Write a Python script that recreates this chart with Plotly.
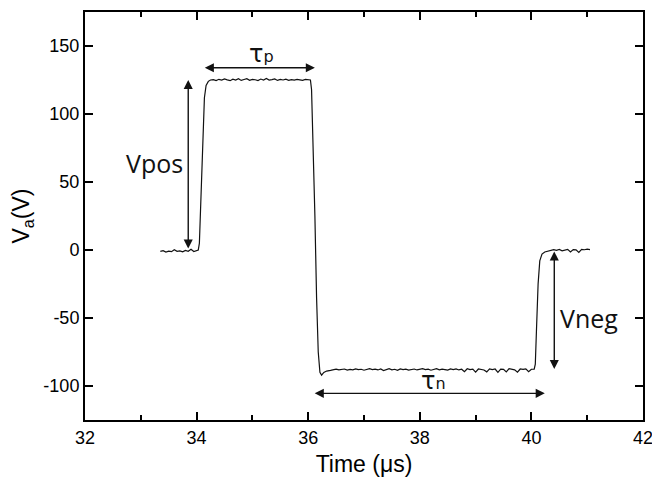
import plotly.graph_objects as go

# ---- data ----
t_base = [33.35, 33.40, 33.45, 33.50, 33.55, 33.60, 33.65, 33.70, 33.75, 33.80, 33.85, 33.90, 33.95, 34.00]
v_base = [-1.0, -0.5, -1.5, -0.8, -1.2, 0.2, -1.0, -0.6, -1.4, -0.3, -0.9, 0.5, -1.1, -0.2]

t_rise1 = [34.03, 34.05, 34.08, 34.11, 34.14, 34.17, 34.21, 34.25]
v_rise1 = [0.0, 5, 40, 85, 112, 121, 124, 125]

t_high = [34.30, 34.35, 34.40, 34.45, 34.50, 34.55, 34.60, 34.65, 34.70, 34.75,
          34.80, 34.85, 34.90, 34.95, 35.00, 35.05, 35.10, 35.15, 35.20, 35.25,
          35.30, 35.35, 35.40, 35.45, 35.50, 35.55, 35.60, 35.65, 35.70, 35.75,
          35.80, 35.85, 35.90, 35.95, 36.00]
v_high = [125.3, 124.6, 125.5, 124.9, 125.8, 125.1, 124.5, 125.6, 125.0, 125.9,
          124.7, 125.4, 126.0, 124.8, 125.5, 125.2, 124.6, 125.7, 125.0, 126.1,
          124.9, 125.3, 125.8, 124.7, 125.4, 125.0, 125.6, 124.8, 125.3, 124.9,
          125.5, 125.1, 124.7, 125.4, 125.0]

t_fall = [36.04, 36.06, 36.09, 36.12, 36.15, 36.18, 36.21, 36.24, 36.28, 36.33]
v_fall = [125, 118, 80, 25, -35, -75, -90, -92, -90, -89]

t_low = [36.40, 36.45, 36.50, 36.55, 36.60, 36.65, 36.70, 36.75, 36.80, 36.85,
         36.90, 36.95, 37.00, 37.05, 37.10, 37.15, 37.20, 37.25, 37.30, 37.35,
         37.40, 37.45, 37.50, 37.55, 37.60, 37.65, 37.70, 37.75, 37.80, 37.85,
         37.90, 37.95, 38.00, 38.05, 38.10, 38.15, 38.20, 38.25, 38.30, 38.35,
         38.40, 38.45, 38.50, 38.55, 38.60, 38.65, 38.70, 38.75, 38.80, 38.85,
         38.90, 38.95, 39.00, 39.05, 39.10, 39.15, 39.20, 39.25, 39.30, 39.35,
         39.40, 39.45, 39.50, 39.55, 39.60, 39.65, 39.70, 39.75, 39.80, 39.85,
         39.90, 39.95, 40.00, 40.05]
v_low = [-88.5, -88.0, -87.6, -88.2, -88.0, -87.5, -88.3, -87.8, -88.1, -87.4,
         -88.0, -87.7, -88.4, -87.9, -87.3, -88.0, -87.6, -88.2, -87.5, -88.6,
         -87.8, -87.2, -88.1, -87.7, -88.5, -87.4, -88.0, -87.6, -88.3, -87.9,
         -87.5, -88.2, -87.8, -87.3, -88.0, -87.6, -88.4, -87.7, -87.2, -88.1,
         -87.6, -87.9, -88.3, -87.5, -88.0, -87.4, -88.2, -87.7, -89.5, -87.3,
         -88.0, -87.6, -89.8, -87.5, -87.9, -88.2, -89.6, -87.4, -88.0, -87.5,
         -90.0, -87.6, -87.8, -89.7, -87.3, -87.9, -88.1, -89.9, -87.5, -87.8,
         -87.4, -89.5, -87.7, -87.6]

t_rise2 = [40.07, 40.09, 40.12, 40.15, 40.19, 40.24, 40.30]
v_rise2 = [-84, -60, -25, -8, -3, -1.5, -1]

t_zero = [40.35, 40.40, 40.45, 40.50, 40.55, 40.60, 40.65, 40.70, 40.75, 40.80,
          40.85, 40.90, 40.95, 41.00, 41.05]
v_zero = [-0.5, 0.3, -0.2, 0.4, -0.6, 0.2, 0.5, -1.5, 0.3, 0.1, -1.8, 0.4, 0.2, 0.6, 0.3]

x_ticks = [32, 34, 36, 38, 40, 42]
x_ticklabels = ["32", "34", "36", "38", "40", "42"]
y_ticks = [-100, -50, 0, 50, 100, 150]
y_ticklabels = ["-100", "-50", "0", "50", "100", "150"]

time = t_base + t_rise1 + t_high + t_fall + t_low + t_rise2 + t_zero
volt = v_base + v_rise1 + v_high + v_fall + v_low + v_rise2 + v_zero

# annotation markers (pulse characteristics)
tau_p = (34.12, 36.12, 134)     # x0, x1, y
tau_n = (36.09, 40.24, -105.4)
v_pos = (33.85, 0, 125)         # x, y0, y1
v_neg = (40.41, 0, -87.5)

fig = go.Figure()
fig.add_trace(go.Scatter(x=time, y=volt, mode="lines",
                         line=dict(color="#111111", width=1.2), showlegend=False))

arrow_kw = dict(xref="x", yref="y", axref="x", ayref="y", text="", showarrow=True,
                arrowhead=2, arrowside="end+start", arrowsize=1.3, arrowwidth=1.4,
                arrowcolor="#111111", startarrowhead=2, startarrowsize=1.3)

fig.add_annotation(x=tau_p[1], y=tau_p[2], ax=tau_p[0], ay=tau_p[2], **arrow_kw)
fig.add_annotation(x=tau_n[1], y=tau_n[2], ax=tau_n[0], ay=tau_n[2], **arrow_kw)
fig.add_annotation(x=v_pos[0], y=v_pos[2], ax=v_pos[0], ay=v_pos[1], **arrow_kw)
fig.add_annotation(x=v_neg[0], y=v_neg[2], ax=v_neg[0], ay=v_neg[1], **arrow_kw)

lab_font = dict(family="Open Sans", size=25, color="#111111")
fig.add_annotation(x=33.24, y=64, text="Vpos", showarrow=False, font=lab_font)
fig.add_annotation(x=41.03, y=-50, text="Vneg", showarrow=False, font=lab_font)
tau_font = dict(family="DejaVu Sans", size=24, color="#111111")
fig.add_annotation(x=35.16, y=144, text="τ<span style='font-size:16px'>p</span>",
                   showarrow=False, font=tau_font)
fig.add_annotation(x=38.25, y=-96, text="τ<span style='font-size:16px'>n</span>",
                   showarrow=False, font=tau_font)

tick_font = dict(family="Liberation Sans, Arial", size=18, color="black")
title_font = dict(family="Liberation Sans, Arial", size=23, color="black")
axis_common = dict(showline=True, linecolor="black", linewidth=2, mirror="ticks",
                   ticks="inside", ticklen=8, tickwidth=1.5, tickcolor="black",
                   showgrid=False, zeroline=False, tickfont=tick_font, automargin=False,
                   ticklabeloverflow="allow")

fig.update_xaxes(range=[32, 42], tickmode="array", tickvals=x_ticks, ticktext=x_ticklabels,
                 minor=dict(dtick=1, tick0=32, ticks="inside", ticklen=5, tickwidth=1.5,
                            tickcolor="black"),
                 title=dict(text="Time (μs)", font=title_font, standoff=9),
                 **axis_common)
fig.update_yaxes(range=[-125, 175], tickmode="array", tickvals=y_ticks, ticktext=y_ticklabels,
                 title=dict(text="V<sub>a</sub>(V)", font=title_font, standoff=7),
                 **axis_common)

fig.update_layout(width=652, height=485, margin=dict(l=85, r=9, t=12, b=65),
                  plot_bgcolor="white", paper_bgcolor="white")

fig.write_html("out.html")
